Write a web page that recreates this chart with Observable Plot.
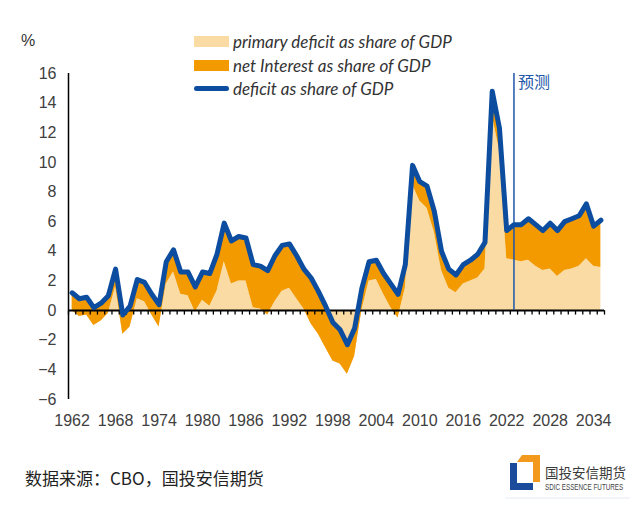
<!DOCTYPE html>
<html><head><meta charset="utf-8">
<script src="https://cdn.jsdelivr.net/npm/d3@7"></script>
<script src="https://cdn.jsdelivr.net/npm/@observablehq/plot@0.6"></script>
<style>
body{margin:0;background:#fff;}
#wrap{position:relative;width:635px;height:506px;overflow:hidden;background:#fff;}
#chart{position:absolute;left:0;top:0;}
#pct{position:absolute;left:21px;top:33px;font:16px "Liberation Sans",Arial,sans-serif;color:#333;line-height:16px;}
.row{position:absolute;left:194px;height:22px;display:flex;align-items:center;font-family:"Lato","Liberation Sans",sans-serif;font-style:italic;font-size:17px;color:#333;white-space:nowrap;}
.sw{width:35px;height:11px;margin-right:4px;flex:none;}
.swl{width:35px;height:5px;border-radius:3px;margin-right:4px;flex:none;}
#source{position:absolute;left:25px;top:468px;font:17px "Noto Sans CJK SC",sans-serif;color:#222;line-height:20px;white-space:nowrap;}
#logo{position:absolute;left:500px;top:448px;}
</style></head><body>
<div id="wrap">
  <div id="chart"></div>
  <div id="pct">%</div>
  <div id="legend"></div>
  <div id="source">数据来源：CBO，国投安信期货</div>
  <svg id="logo" width="135" height="58" viewBox="500 448 135 58">
    <polygon points="522,455 540,455 540,482 533,482 533,462 517,462" fill="#F39A1E"/>
    <polygon points="510,463 517,463 517,483 533,483 533,490 510,490" fill="#1B4C9C"/>
    <text x="545" y="478" font-family="Noto Sans CJK SC" font-size="13.5" fill="#3a3a3a">国投安信期货</text>
    <g transform="translate(545,490) scale(0.74,1)">
      <text x="0" y="0" font-family="Liberation Sans" font-size="8.5" fill="#444">SDIC ESSENCE FUTURES</text>
    </g>
    <line x1="505" y1="498" x2="630" y2="498" stroke="#e6ebf2" stroke-width="1"/>
  </svg>
</div>
<script>
// ---- data (share of GDP, %) ----
const years = [1962,1963,1964,1965,1966,1967,1968,1969,1970,1971,1972,1973,1974,1975,1976,1977,1978,1979,1980,1981,
1982,1983,1984,1985,1986,1987,1988,1989,1990,1991,1992,1993,1994,1995,1996,1997,1998,1999,2000,2001,
2002,2003,2004,2005,2006,2007,2008,2009,2010,2011,2012,2013,2014,2015,2016,2017,2018,2019,2020,2021,
2022,2023,2024,2025,2026,2027,2028,2029,2030,2031,2032,2033,2034,2035];

const primaryDeficit = [0.0,-0.4,-0.3,-1.0,-0.7,-0.2,1.6,-1.6,-1.1,0.8,0.6,-0.3,-1.1,1.8,2.6,1.1,1.0,-0.1,0.7,0.3,
1.3,3.3,1.8,2.0,2.0,0.2,0.1,-0.3,0.6,1.3,1.5,0.8,0.1,-0.9,-1.6,-2.5,-3.4,-3.6,-4.3,-3.1,
0.0,2.0,2.1,1.1,0.2,-0.5,1.5,8.5,7.4,6.9,5.3,2.7,1.5,1.2,1.8,2.0,2.2,2.8,13.2,10.8,
3.5,3.4,3.3,3.4,3.0,2.7,2.8,2.3,2.7,2.8,3.0,3.5,3.0,2.9];

const netInterest = [1.2,1.2,1.2,1.2,1.2,1.2,1.2,1.3,1.4,1.3,1.3,1.4,1.5,1.5,1.5,1.5,1.6,1.7,1.9,2.2,
2.5,2.6,2.9,3.0,2.9,2.9,2.9,3.0,3.1,3.1,3.0,2.9,2.7,3.1,2.9,2.8,2.6,2.3,2.0,1.9,
1.5,1.3,1.3,1.4,1.6,1.6,1.6,1.3,1.3,1.5,1.4,1.3,1.3,1.2,1.3,1.4,1.6,1.8,1.6,1.5,
1.9,2.4,2.5,2.8,2.8,2.7,3.1,3.1,3.3,3.4,3.4,3.7,2.7,3.2];

const deficit = [1.2,0.8,0.9,0.2,0.5,1.0,2.8,-0.3,0.3,2.1,1.9,1.1,0.4,3.3,4.1,2.6,2.6,1.6,2.6,2.5,
3.8,5.9,4.7,5.0,4.9,3.1,3.0,2.7,3.7,4.4,4.5,3.7,2.8,2.2,1.3,0.3,-0.8,-1.3,-2.3,-1.2,
1.5,3.3,3.4,2.5,1.8,1.1,3.1,9.8,8.7,8.4,6.7,4.0,2.8,2.4,3.1,3.4,3.8,4.6,14.8,12.3,
5.4,5.8,5.8,6.2,5.8,5.4,5.9,5.4,6.0,6.2,6.4,7.2,5.7,6.1];

const yTicks = [-6,-4,-2,0,2,4,6,8,10,12,14,16];
const xLabels = [1962,1968,1974,1980,1986,1992,1998,2004,2010,2016,2022,2028,2034];
const forecastYear = 2023;
const forecastLabel = "预测";
const legendLabels = ["primary deficit as share of GDP","net Interest as share of GDP","deficit as share of GDP"];

// ---- styles ----
const TAN = "#F9DBA3", ORANGE = "#F39A00", BLUE = "#0C4DA0", BLUE2 = "#1E56AA";

const rows = years.map((year, i) => ({year, primary: primaryDeficit[i], interest: netInterest[i], deficit: deficit[i]}));
const xMin = years[0] - 0.5, xMax = years[years.length - 1] + 0.5;
const bounds = years.map(y => y - 0.5).concat([xMax]);

const chart = Plot.plot({
  width: 635, height: 440,
  marginLeft: 68, marginRight: 31, marginTop: 73, marginBottom: 41,
  x: {domain: [xMin, xMax]},
  y: {domain: [yTicks[0], yTicks[yTicks.length - 1]]},
  style: {fontFamily: "'Liberation Sans', Arial, sans-serif", fontSize: "16px", color: "#404040", background: "transparent"},
  marks: [
    Plot.areaY(rows, {x: "year", y1: 0, y2: "primary", fill: TAN}),
    Plot.areaY(rows, {x: "year", y1: "primary", y2: d => d.primary + d.interest, fill: ORANGE}),
    Plot.ruleY([0], {stroke: "#000", strokeWidth: 2}),
    Plot.ruleX(bounds, {x: d => d, y1: 0, y2: 0, insetBottom: -4.5, stroke: "#000", strokeWidth: 1.3}),
    Plot.ruleX([forecastYear], {y1: 0, y2: yTicks[yTicks.length - 1], stroke: BLUE2, strokeWidth: 1.5}),
    Plot.text([forecastLabel], {x: forecastYear, y: yTicks[yTicks.length - 1], dx: 4, dy: 3, textAnchor: "start", lineAnchor: "top", fill: "#2357A8", fontSize: 16, fontFamily: "'Noto Sans CJK SC', sans-serif"}),
    Plot.line(rows, {x: "year", y: "deficit", stroke: BLUE, strokeWidth: 5, strokeLinejoin: "round", strokeLinecap: "round"}),
    Plot.ruleX([xMin], {y1: yTicks[0], y2: yTicks[yTicks.length - 1], stroke: "#000", strokeWidth: 1.5}),
    Plot.axisY({ticks: yTicks, tickSize: 0, tickPadding: 12, label: null, tickFormat: d => d < 0 ? "\u2212" + Math.abs(d) : String(d)}),
    Plot.axisX({ticks: xLabels, tickSize: 0, tickPadding: 15, label: null, tickFormat: d => String(d)})
  ]
});
document.getElementById("chart").appendChild(chart);

// legend
const legend = document.getElementById("legend");
const centers = [41.7, 65, 88.3];
const swatches = [
  `<div class="sw" style="background:${TAN}"></div>`,
  `<div class="sw" style="background:${ORANGE}"></div>`,
  `<div class="swl" style="background:${BLUE}"></div>`
];
legendLabels.forEach((t, i) => {
  const r = document.createElement("div");
  r.className = "row";
  r.style.top = (centers[i] - 11) + "px";
  r.innerHTML = swatches[i] + `<span>${t}</span>`;
  legend.appendChild(r);
});
</script>
</body></html>
